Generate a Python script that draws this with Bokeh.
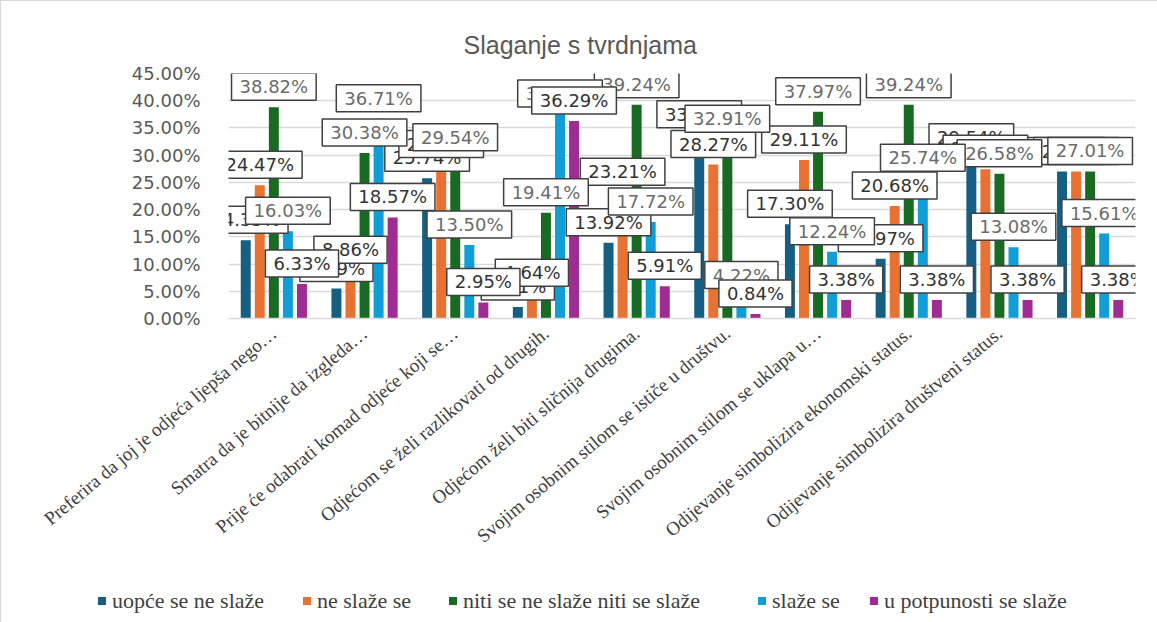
from bokeh.plotting import figure
from bokeh.layouts import column
from bokeh.models import ColumnDataSource, FactorRange, Range1d, PrintfTickFormatter, FixedTicker, Div
from bokeh.transform import dodge
from bokeh.core.properties import value
from bokeh.embed import file_html
from bokeh.resources import INLINE

categories = [
    "Preferira da joj je odjeća ljepša nego…",
    "Smatra da je bitnije da izgleda…",
    "Prije će odabrati komad odjeće koji se…",
    "Odjećom se želi razlikovati od drugih.",
    "Odjećom želi biti sličnija drugima.",
    "Svojim osobnim stilom se ističe u društvu.",
    "Svojim osobnim stilom se uklapa u…",
    "Odijevanje simbolizira ekonomski status.",
    "Odijevanje simbolizira društveni status.",
    " ",
]
series = ["uopće se ne slaže", "ne slaže se", "niti se ne slaže niti se slaže", "slaže se", "u potpunosti se slaže"]

uopce_se_ne_slaze = [14.35, 5.49, 25.74, 2.11, 13.92, 33.76, 17.30, 10.97, 29.54, 27.00]
ne_slaze_se = [24.47, 8.86, 28.27, 4.64, 23.21, 28.27, 29.11, 20.68, 27.42, 27.00]
niti_niti = [38.82, 30.38, 29.54, 19.41, 39.24, 32.91, 37.97, 39.24, 26.58, 27.01]
slaze_se = [16.03, 36.71, 13.50, 37.55, 17.72, 4.22, 12.24, 25.74, 13.08, 15.61]
u_potpunosti = [6.33, 18.57, 2.95, 36.29, 5.91, 0.84, 3.38, 3.38, 3.38, 3.38]

y_ticks = [0, 5, 10, 15, 20, 25, 30, 35, 40, 45]

values_list = [uopce_se_ne_slaze, ne_slaze_se, niti_niti, slaze_se, u_potpunosti]
colors = ["#156082", "#E97132", "#196B24", "#0F9ED5", "#A02B93"]
label_colors = ["#333333", "#333333", "#6b6b6b", "#6b6b6b", "#333333"]
offsets = [-0.31, -0.155, 0.0, 0.155, 0.31]
legend_left_px = [92, 297, 443, 752, 864]

data = {"cat": categories}
for i, vals in enumerate(values_list):
    data[f"s{i}"] = vals
    data[f"l{i}"] = [f"{v:.2f}%" for v in vals]
src = ColumnDataSource(data)

p = figure(width=1150, height=582, x_range=FactorRange(*categories), y_range=Range1d(0, 45),
           output_backend="svg", toolbar_location=None,
           min_border_left=227, min_border_right=16, min_border_top=72, min_border_bottom=265)
p.outline_line_color = None
p.background_fill_color = "white"
p.border_fill_color = "white"

p.title.text = "Slaganje s tvrdnjama"
p.title.text_font = "Liberation Sans"
p.title.text_font_size = "25px"
p.title.text_font_style = "normal"
p.title.text_color = "#595959"
p.title.align = "left"
p.title.offset = 235
p.title.standoff = 30

for i in range(5):
    p.vbar(x=dodge("cat", offsets[i], range=p.x_range), top=f"s{i}", width=0.11,
           source=src, fill_color=colors[i], line_color=None)

for i in range(5):
    p.text(x=dodge("cat", offsets[i], range=p.x_range), y=f"s{i}", text=f"l{i}", source=src,
           text_align="center", text_baseline="bottom", y_offset=-7,
           text_font=value("DejaVu Sans"), text_font_size="18px", text_color=label_colors[i],
           background_fill_color="white", border_line_color="#404040", border_line_width=1.5,
           padding=(8, 3))

p.yaxis.ticker = FixedTicker(ticks=y_ticks)
p.yaxis.formatter = PrintfTickFormatter(format="%.2f%%")
p.yaxis.axis_line_color = None
p.yaxis.major_tick_line_color = None
p.yaxis.minor_tick_line_color = None
p.yaxis.major_label_text_font = "DejaVu Sans"
p.yaxis.major_label_text_font_size = "18px"
p.yaxis.major_label_text_color = "#595959"
p.yaxis.major_label_standoff = 22

p.xaxis.axis_line_color = "#d9d9d9"
p.xaxis.axis_line_width = 1.5
p.xaxis.major_tick_line_color = None
p.xaxis.minor_tick_line_color = None
p.xaxis.major_label_orientation = 0.698
p.xaxis.major_label_text_font = "Liberation Serif"
p.xaxis.major_label_text_font_size = "19px"
p.xaxis.major_label_text_color = "#404040"
p.xaxis.major_label_standoff = 6

p.xgrid.grid_line_color = None
p.ygrid.grid_line_color = "#d9d9d9"
p.ygrid.grid_line_width = 1.5

# legend row built from the series names and colours
style_block = (
    "<style>"
    ".lg, .lg * { font-family: 'Liberation Serif', serif !important; font-size: 22px !important; "
    "color: #404040 !important; }"
    ".lg .sw { display: inline-block; width: 8px; height: 8px; margin-right: 6px; }"
    ".lg .it { position: absolute; top: 0px; display: flex; align-items: center; white-space: nowrap; height: 30px; }"
    "</style>"
)
items_html = []
for i in range(5):
    items_html.append(
        f'<span class="it" style="left:{legend_left_px[i]}px;">'
        f'<span class="sw" style="background:{colors[i]} !important;"></span>'
        f'{series[i]}</span>')
legend_div = Div(
    text=style_block + '<div class="lg" style="position:relative;height:30px;margin-top:-2px;">'
         + "".join(items_html) + '</div>',
    width=1150, height=36)

layout = column(p, legend_div, spacing=0, styles={"border": "1px solid #d9d9d9"})
open("out.html", "w").write(file_html(layout, INLINE))
